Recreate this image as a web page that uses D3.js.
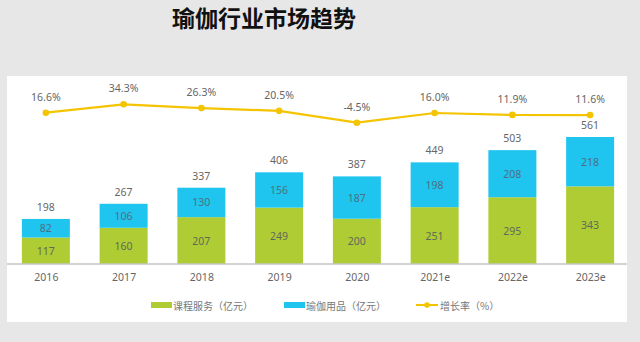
<!DOCTYPE html>
<html><head><meta charset="utf-8">
<script src="https://cdn.jsdelivr.net/npm/d3@7"></script>
<style>html,body{margin:0;padding:0;background:#e7e7e7;}svg{display:block;}</style>
</head><body>
<svg id="c" width="640" height="342"></svg>
<script>
const categories = ["2016","2017","2018","2019","2020","2021e","2022e","2023e"];
const courseService = [117,160,207,249,200,251,295,343];
const yogaGoods = [82,106,130,156,187,198,208,218];
const totals = [198,267,337,406,387,449,503,561];
const growthRate = [16.6,34.3,26.3,20.5,-4.5,16.0,11.9,11.6];
const seriesNames = ["课程服务（亿元）","瑜伽用品（亿元）","增长率（%）"];
const title = "瑜伽行业市场趋势";

const green = "#b0cc34", blue = "#1fc5ef", gold = "#f4c400";
const numFont = "'Noto Sans', 'Open Sans', sans-serif";
const cjkFont = "'Noto Sans CJK SC', sans-serif";

const svg = d3.select("#c");
svg.append("rect").attr("width",640).attr("height",342).attr("fill","#e7e7e7");
svg.append("rect").attr("x",7).attr("y",76).attr("width",620).attr("height",246).attr("fill","#ffffff");

svg.append("text").attr("x",264).attr("y",17).attr("text-anchor","middle")
  .attr("dominant-baseline","central").attr("font-family",cjkFont)
  .attr("font-weight","bold").attr("font-size",23).attr("fill","#111").text(title);

const x = d3.scalePoint().domain(categories).range([7,629]).padding(0.5);
const y = d3.scaleLinear().domain([0,561]).range([264,137]);
const yl = d3.scaleLinear().domain([-4.5,34.3]).range([122.7,104.3]);
const bw = 48;

const data = categories.map((c,i)=>({c, a:courseService[i], b:yogaGoods[i], t:totals[i], g:growthRate[i]}));

const g = svg.append("g");
g.selectAll("rect.a").data(data).join("rect").attr("class","a")
  .attr("x",d=>x(d.c)-bw/2).attr("width",bw)
  .attr("y",d=>y(d.a)).attr("height",d=>y(0)-y(d.a)).attr("fill",green);
g.selectAll("rect.b").data(data).join("rect").attr("class","b")
  .attr("x",d=>x(d.c)-bw/2).attr("width",bw)
  .attr("y",d=>y(d.a+d.b)).attr("height",d=>y(d.a)-y(d.a+d.b)).attr("fill",blue);

const lab = (sel)=>sel.attr("text-anchor","middle").attr("dominant-baseline","central")
  .attr("font-family",numFont).attr("font-size",10.5);
lab(g.selectAll("text.a").data(data).join("text").attr("class","a")
  .attr("x",d=>x(d.c)).attr("y",d=>(y(0)+y(d.a))/2).attr("fill","#5e6a5a").text(d=>d.a));
lab(g.selectAll("text.b").data(data).join("text").attr("class","b")
  .attr("x",d=>x(d.c)).attr("y",d=>(y(d.a)+y(d.a+d.b))/2).attr("fill","#4f6f80").text(d=>d.b));
lab(g.selectAll("text.t").data(data).join("text").attr("class","t")
  .attr("x",d=>x(d.c)).attr("y",d=>y(d.t)-12).attr("fill","#666").text(d=>d.t));

// axis
const ax = svg.append("g").attr("transform","translate(0,264)").call(d3.axisBottom(x).tickSize(0).tickPadding(10));
ax.select(".domain").attr("stroke","#c4c4c4").attr("stroke-width",1.5).attr("d","M7,0H627");
ax.selectAll("text").attr("font-family",numFont).attr("font-size",10.5).attr("fill","#666");

// line
const line = d3.line().x(d=>x(d.c)).y(d=>yl(d.g));
svg.append("path").datum(data).attr("d",line).attr("fill","none").attr("stroke",gold).attr("stroke-width",2.2);
svg.selectAll("circle.p").data(data).join("circle").attr("class","p")
  .attr("cx",d=>x(d.c)).attr("cy",d=>yl(d.g)).attr("r",3.3).attr("fill",gold);
lab(svg.selectAll("text.g").data(data).join("text").attr("class","g")
  .attr("x",d=>x(d.c)).attr("y",d=>yl(d.g)-16).attr("fill","#666").text(d=>d.g.toFixed(1)+"%"));

// legend
const lg = svg.append("g").attr("font-family",cjkFont).attr("font-size",10).attr("fill","#777");
lg.append("rect").attr("x",151).attr("y",302).attr("width",21).attr("height",6).attr("fill",green);
lg.append("text").attr("x",173).attr("y",305).attr("dominant-baseline","central").text(seriesNames[0]);
lg.append("rect").attr("x",284).attr("y",302).attr("width",21).attr("height",6).attr("fill",blue);
lg.append("text").attr("x",306).attr("y",305).attr("dominant-baseline","central").text(seriesNames[1]);
lg.append("line").attr("x1",416).attr("x2",438).attr("y1",305).attr("y2",305).attr("stroke",gold).attr("stroke-width",2);
lg.append("circle").attr("cx",427).attr("cy",305).attr("r",2.8).attr("fill",gold);
lg.append("text").attr("x",440).attr("y",305).attr("dominant-baseline","central").text(seriesNames[2]);
</script>
</body></html>
